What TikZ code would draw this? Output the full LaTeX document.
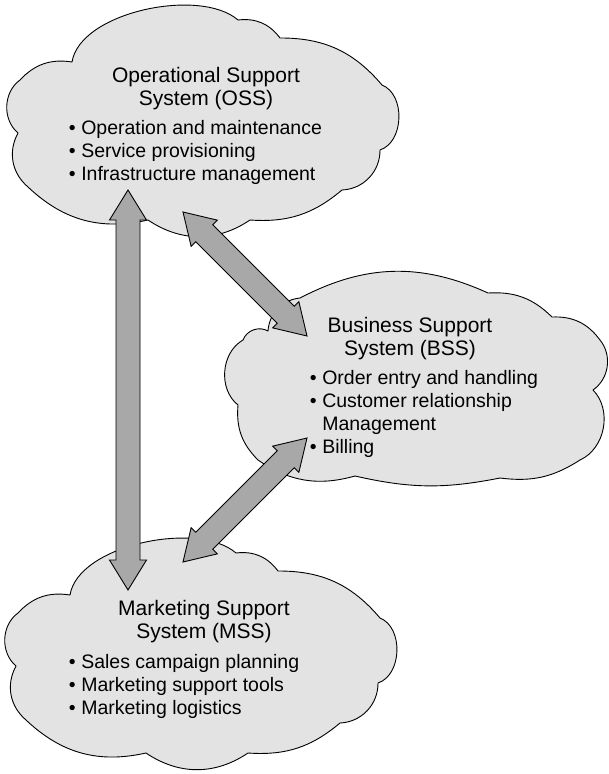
\documentclass[tikz,border=0pt]{standalone}
\usepackage{fontspec}
\setmainfont{Liberation Sans}
\usetikzlibrary{calc}

\definecolor{cloudfill}{RGB}{227,227,227}
\definecolor{arrowfill}{RGB}{168,168,168}

% bullet followed by the gap up to the item text
\newcommand{\bul}{\makebox[12.5pt][l]{•}}

% broad double-headed arrow between two named points
\newcommand{\fatarrow}[2]{%
  \coordinate (#1-h) at ($(#1)!30pt!(#2)$);
  \coordinate (#2-h) at ($(#2)!30pt!(#1)$);
  \draw[arrowbody] (#1)
    -- ($(#1-h)!18.5pt!90:(#2)$) -- ($(#1-h)!12pt!90:(#2)$)
    -- ($(#2-h)!12pt!-90:(#1)$) -- ($(#2-h)!18.5pt!-90:(#1)$)
    -- (#2)
    -- ($(#2-h)!18.5pt!90:(#1)$) -- ($(#2-h)!12pt!90:(#1)$)
    -- ($(#1-h)!12pt!-90:(#2)$) -- ($(#1-h)!18.5pt!-90:(#2)$)
    -- cycle;}

\begin{document}
\begin{tikzpicture}[x=1pt,y=-1pt,
  cloudshape/.style={draw=black, fill=cloudfill, line width=0.9pt, line join=round},
  arrowbody/.style={draw=black, fill=arrowfill, line width=0.9pt, line join=miter},
  titletext/.style={font=\fontsize{21}{23}\selectfont, inner sep=0pt},
  listtext/.style={font=\fontsize{19.5}{23}\selectfont, inner sep=0pt},
  widecloud/.pic={
    \draw[cloudshape] (72,62) .. controls (80,12) and (200,-13) .. (238,20)
      to[bend left=30] (280,38)
      to[bend left=25] (382,85)
      to[bend left=70] (380,150)
      to[bend left=44] (342,190)
      to[bend left=22] (250,220)
      to[bend left=34] (148,220)
      to[bend left=28] (28,187)
      to[bend left=39] (18,133)
      to[bend left=52] (20,80)
      to[bend left=28] (72,62) -- cycle;
  }]
\useasboundingbox (0,0) rectangle (608,774);

% clouds
\pic (osscloud) at (0,0) {widecloud};
\pic (msscloud) at (-2,533) {widecloud};
\draw[cloudshape] (268,331)
  to[bend left=40] (300,298)
  to[bend left=26] (488,293)
  to[bend left=24] (552,317)
  to[bend left=28] (600,340)
  to[bend left=47] (593,390)
  to[bend left=55] (580,460)
  to[bend left=20] (500,478)
  to[bend left=12] (355,476)
  to[bend left=25] (258,460)
  to[bend left=25] (238,405)
  to[bend left=56] (243,340)
  to[bend left=50] (268,331) -- cycle;

% texts
\node[titletext, anchor=base] (osstitle) at (206,82)
  {\setlength\tabcolsep{0pt}\begin{tabular}[t]{c}Operational Support\\System (OSS)\end{tabular}};
\node[listtext, anchor=base west] (osslist) at (68.6,134)
  {\setlength\tabcolsep{0pt}\begin{tabular}[t]{l}\bul Operation and maintenance\\\bul Service provisioning\\\bul Infrastructure management\end{tabular}};

\node[titletext, anchor=base] (bsstitle) at (410,332)
  {\setlength\tabcolsep{0pt}\begin{tabular}[t]{c}Business Support\\System (BSS)\end{tabular}};
\node[listtext, anchor=base west] (bsslist) at (309.6,384.5)
  {\setlength\tabcolsep{0pt}\begin{tabular}[t]{l}\bul Order entry and handling\\\bul Customer relationship\\\hspace*{12.5pt}Management\\\bul Billing\end{tabular}};

\node[titletext, anchor=base] (msstitle) at (204,615)
  {\setlength\tabcolsep{0pt}\begin{tabular}[t]{c}Marketing Support\\System (MSS)\end{tabular}};
\node[listtext, anchor=base west] (msslist) at (68.6,668)
  {\setlength\tabcolsep{0pt}\begin{tabular}[t]{l}\bul Sales campaign planning\\\bul Marketing support tools\\\bul Marketing logistics\end{tabular}};

% arrow end points
\coordinate (ossv) at (128,190);
\coordinate (mssv) at (128,590);
\coordinate (ossd) at (183,212);
\coordinate (bssu) at (307,336);
\coordinate (bssl) at (307,438);
\coordinate (mssd) at (183,562);

\fatarrow{ossv}{mssv}
\fatarrow{ossd}{bssu}
\fatarrow{bssl}{mssd}
\end{tikzpicture}
\end{document}
